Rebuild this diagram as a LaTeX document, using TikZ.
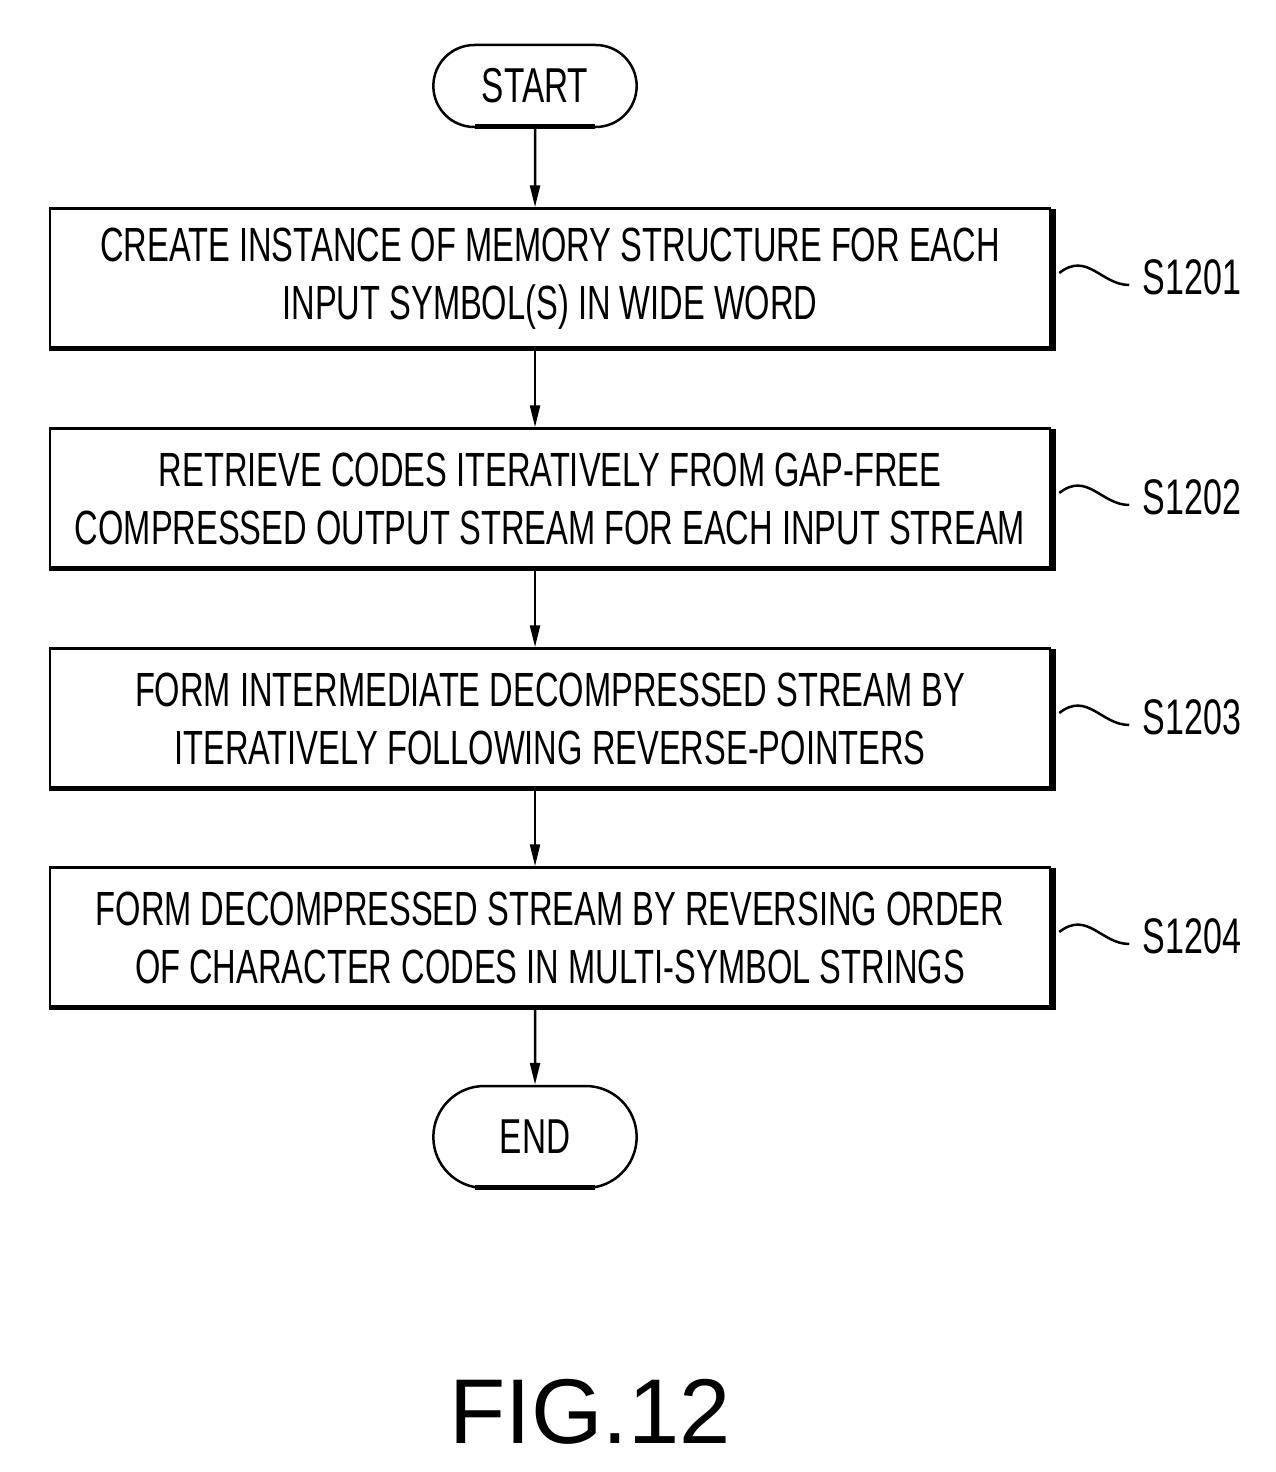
\documentclass[tikz,border=0pt]{standalone}
\usepackage{fontspec}
\setmainfont{Liberation Sans}[FakeStretch=0.68]
\newfontfamily\figfont{Liberation Sans}
\usetikzlibrary{arrows.meta,shapes.misc}
\begin{document}
\begin{tikzpicture}[x=1pt,y=-1pt,
  box/.style={draw,line width=2.5pt,minimum width=1000pt,minimum height=141pt,align=center,
     font=\fontsize{48}{58}\selectfont,fill=white},
  term/.style={draw,line width=2.5pt,rounded rectangle,minimum width=210pt,minimum height=82pt,
     font=\fontsize{49}{52}\selectfont,fill=white},
  shadow/.style={line width=5pt},
  arr/.style={line width=2.5pt,-{Triangle[length=22pt,width=10pt]}},
  lab/.style={font=\fontsize{50}{52}\selectfont,anchor=west}]
\useasboundingbox (0,0) rectangle (1276,1472);
\node[term] (start) at (535,86) {START};
\node[box] (b1) at (550,279) {CREATE INSTANCE OF MEMORY STRUCTURE FOR EACH\\INPUT SYMBOL(S) IN WIDE WORD};
\node[box] (b2) at (550,499) {RETRIEVE CODES ITERATIVELY FROM GAP-FREE\\COMPRESSED OUTPUT STREAM FOR EACH INPUT STREAM};
\node[box] (b3) at (550,719) {FORM INTERMEDIATE DECOMPRESSED STREAM BY\\ITERATIVELY FOLLOWING REVERSE-POINTERS};
\node[box] (b4) at (550,938) {FORM DECOMPRESSED STREAM BY REVERSING ORDER\\OF CHARACTER CODES IN MULTI-SYMBOL STRINGS};
\node[term,minimum height=102pt] (end) at (535,1137) {END};
\foreach \b in {b1,b2,b3,b4}{
  \draw[shadow] ([xshift=2pt,yshift=-2pt]\b.north east) -- ([xshift=2pt,yshift=2pt]\b.south east) -- ([yshift=2pt]\b.south west);
}
\draw[shadow] ([yshift=2pt]start.south) ++(-60,0) -- ++(120,0);
\draw[shadow] ([yshift=2pt]end.south) ++(-60,0) -- ++(120,0);
\draw[arr] (start) -- (start|-b1.north);
\draw[arr] (b1.south-|start) -- (start|-b2.north);
\draw[arr] (b2.south-|start) -- (start|-b3.north);
\draw[arr] (b3.south-|start) -- (start|-b4.north);
\draw[arr] (b4.south-|start) -- (end);
\foreach \b/\s in {b1/S1201,b2/S1202,b3/S1203,b4/S1204}{
  \coordinate (q\b) at ([xshift=8pt,yshift=6pt]\b.east);
  \draw[line width=2.5pt] (q\b) .. controls +(28,-22) and +(-28,0) .. ++(70,12) coordinate (e\b);
  \node[lab] (l\b) at ([xshift=10pt,yshift=8pt]e\b) {\s};
}
\node[font=\figfont\fontsize{92}{100}\selectfont] (fig) at (590,1412) {FIG.12};
\end{tikzpicture}
\end{document}
